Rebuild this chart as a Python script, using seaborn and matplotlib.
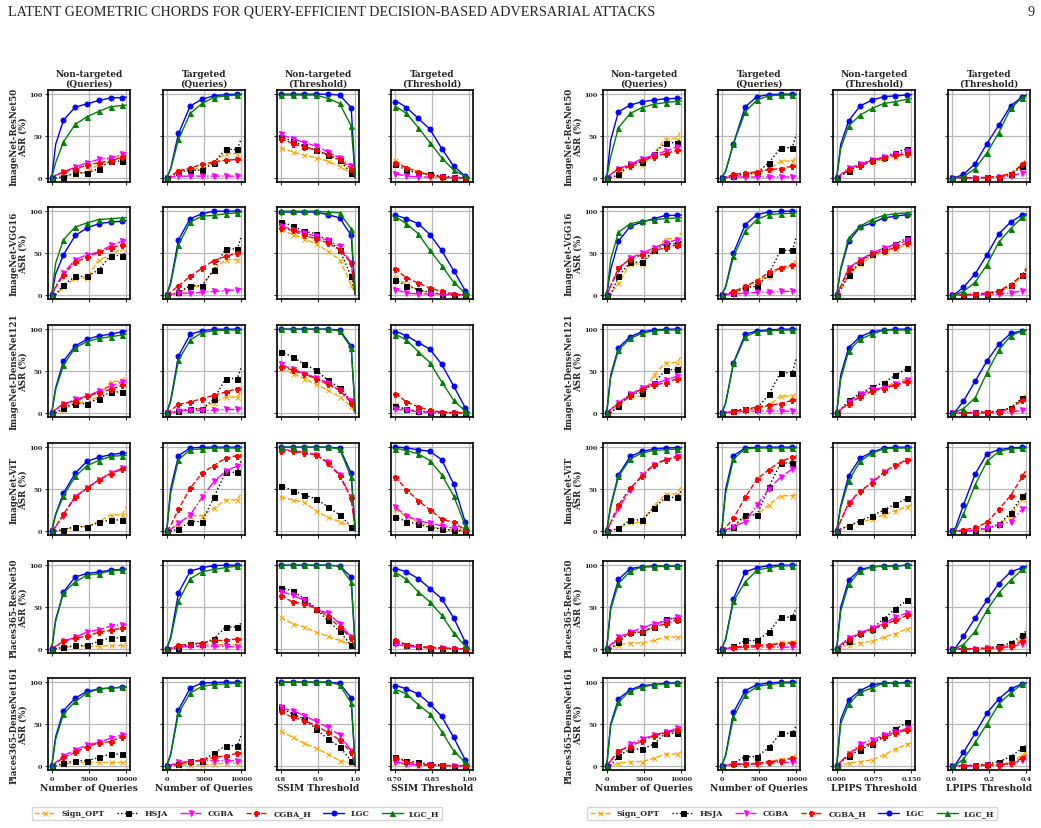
import matplotlib
matplotlib.use("Agg")
import matplotlib.pyplot as plt
import seaborn as sns

# ---- methods / styles ----
methods = ["Sign_OPT", "HSJA", "CGBA", "CGBA_H", "LGC", "LGC_H"]
colors = ["orange", "black", "magenta", "red", "blue", "green"]
markers = ["x", "s", "v", "P", "o", "^"]
styles = ["--", ":", "-.", "--", "-", "-"]

row_names = ["ImageNet-ResNet50", "ImageNet-VGG16", "ImageNet-DenseNet121",
             "ImageNet-ViT", "Places365-ResNet50", "Places365-DenseNet161"]
titles = ["Non-targeted\n(Queries)", "Targeted\n(Queries)",
          "Non-targeted\n(Threshold)", "Targeted\n(Threshold)"]
xlabels = ["Number of Queries", "Number of Queries", "SSIM Threshold", "SSIM Threshold",
           "Number of Queries", "Number of Queries", "LPIPS Threshold", "LPIPS Threshold"]

# sample positions (markers on all but the 2nd and last point)
query_x = [0, 526, 1579, 3158, 4737, 6316, 7895, 9474, 10000]
ssim_nt_x = [0.8, 0.811, 0.832, 0.863, 0.895, 0.926, 0.958, 0.989, 1.0]
ssim_t_x = [0.70, 0.716, 0.747, 0.795, 0.842, 0.889, 0.937, 0.984, 1.0]
lpips_nt_x = [0, 0.008, 0.024, 0.047, 0.071, 0.095, 0.118, 0.142, 0.15]
lpips_t_x = [0, 0.021, 0.063, 0.126, 0.189, 0.253, 0.316, 0.379, 0.4]

query_ticks = [0, 5000, 10000]
query_labels = ["0", "5000", "10000"]
ssim_nt_ticks = [0.8, 0.9, 1.0]
ssim_nt_labels = ["0.8", "0.9", "1.0"]
ssim_t_ticks = [0.70, 0.85, 1.00]
ssim_t_labels = ["0.70", "0.85", "1.00"]
lpips_nt_ticks = [0, 0.075, 0.15]
lpips_nt_labels = ["0.000", "0.075", "0.150"]
lpips_t_ticks = [0, 0.2, 0.4]
lpips_t_labels = ["0.0", "0.2", "0.4"]

# ---- ASR (%) per panel, rows in method order ----
# SSIM block
s_r50_ntq = [[0,0,1,5,7,16,24,27,33], [0,0,1,6,6,11,20,20,24], [0,3,7,13,18,22,24,28,30],
             [0,3,7,11,15,18,20,25,27], [0,40,69,84.5,88.5,92.5,95.5,96,96.5], [0,18,43,64,73,79.5,85,86.5,87]]
s_r50_tq = [[0,1,9,10,11,19,29,29,33], [0,1,7,9,9,18,34,34,47], [0,1,2,2,2,2,2,2,2],
            [0,2,8,12,16,19,21,22,22], [0,11,53,86,94,98,99.5,100,100], [0,10,46,77,89,96,98,99,99]]
s_r50_ntt = [[36,34,31,27,24,20,14,5,0], [49,47,44,38,33,27,21,6,0], [52,50,47,42,38,31,24,14,0],
             [47,45,41,37,33,28,22,11,0], [100,100,100,100,100,100,99,84,0], [99,99,99,99,99,95,89,62,0]]
s_r50_tt = [[21,18,12,7,4,1,0,0,0], [16,14,9,6,4,2,1,0,0], [5,4,2,1,1,0.5,0,0,0],
            [18,16,12,7,3,1,0,0,0], [91,90,84,71,58,35,14,2,0], [85,83,77,60,42,24,9,2,0]]

s_vgg_ntq = [[0,0,9,20,20,42,47,56,60], [0,0,12,22,22,30,47,47,52], [0,10,26,42,48,51,59,64,65],
             [0,9,24,39,45,51,56,60,63], [0,25,48,71,80,85,87,88,89], [0,38,66,81,86,90,91,92,92.5]]
s_vgg_tq = [[0,0,2,10,10,30,42,42,52], [0,0,3,11,11,30,55,55,70], [0,0.5,2,2,3,4,5,6,7],
            [0,3,11,22,32,41,46,50,51], [0,15,66,91,97,100,100,100,100], [0,13,60,87,94,95,97,98,99]]
s_vgg_ntt = [[78,76,72,67,61,52,42,12,0], [87,86,82,76,73,65,54,22,0], [82,81,78,74,70,65,58,38,0],
             [80,79,77,71,67,62,54,38,0], [99,99,99,99,99,96,92,71,0], [100,100,100,100,100,99,98,79,0]]
s_vgg_tt = [[21,18,13,6,2,0.5,0,0,0], [18,16,11,6,3,1,0,0,0], [6,5,2,1,1,0.5,0,0,0],
            [31,28,20,14,8,4,1,0,0], [95,94,91,85,72,53,29,5,0], [93,91,85,73,53,35,15,2,0]]

s_d121_ntq = [[0,0,3,12,12,20,37,38,46], [0,0,6,11,11,17,25,25,28], [0,4,10,16,20,26,32,37,39],
              [0,4,11,14,20,24,28,33,36], [0,30,62,80,88,92,94,97,98], [0,28,57,78,85,89,91,93,94]]
s_d121_tq = [[0,0,2,5,5,12,19,19,26], [0,0,2,5,5,16,41,41,55], [0,0.5,2,3,3,3,4,4,5],
             [0,3,10,13,17,21,25,29,31], [0,15,68,94,98,100,100,100,100], [0,13,63,87,96,98,99,99,99]]
s_d121_ntt = [[54,52,47,41,34,27,19,8,0], [73,71,67,58,51,39,30,14,0], [58,56,52,47,42,36,27,14,0],
              [55,54,51,46,41,34,27,12,0], [100,100,100,100,100,100,99,80,0], [100,100,100,100,100,100,98,78,0]]
s_d121_tt = [[10,8,4,2,1,0,0,0,0], [8,7,4,2,1,0,0,0,0], [5,4,3,1,0.5,0,0,0,0],
             [22,20,13,7,3,1,0.5,0,0], [97,96,92,84,76,58,32,6,0], [93,92,87,73,60,37,15,2,0]]

s_vit_ntq = [[0,0,1,5,5,11,19,19,29], [0,0,1.5,5,5,10,13,13,17], [0,5,18,41,51,61,69,75,78],
             [0,5,20,41,51,61,68,74,76], [0,20,45,69,83,88,91,93,93], [0,19,42,65,78,84,89,90,90]]
s_vit_tq = [[0,1,8,18,18,27,37,37,45], [0,0,2,11,11,40,70,70,85], [0,2,9,19,40,59,71,78,80],
            [0,6,26,51,69,78,87,90,91], [0,50,90,99,100,100,100,100,100], [0,45,85,97,98,99,99,99,99]]
s_vit_ntt = [[40,39,37,34,24,16,11,5,0], [54,52,48,43,38,29,19,5,0], [97,97,96,94,91,82,67,40,0],
             [96,96,95,93,91,81,66,39,0], [100,100,100,100,100,100,99,69,0], [100,100,100,100,100,100,98,64,0]]
s_vit_tt = [[26,23,17,10,6,2,0.5,0,0], [17,15,11,8,4,2,0.5,0,0], [28,25,18,12,9,6,3,1,0],
            [64,60,49,36,25,14,10,1,0], [100,100,99,97,95,85,56,10,0], [98,98,96,92,84,67,42,6,0]]

s_pr50_ntq = [[0,0,1,3,3,3,4,4,4], [0,0,2,4,4,9,13,13,14], [0,3,9,14,20,23,27,29,29],
              [0,3,9,13,15,20,22,25,26], [0,35,68,86,90,92,94,95,95], [0,33,67,80,88,90,93,94.5,95]]
s_pr50_tq = [[0,0.5,2,4,4,5,5,5,6], [0,0,1,6,6,12,26,26,31], [0,0.5,2,3,3,3,3,2,2],
             [0,1,4,6,7,10,10,12,12], [0,14,67,93,97,99.5,100,100,100], [0,12,57,84,92,95,97,99,99]]
s_pr50_ntt = [[38,35,30,26,20,15,10,5,0], [73,72,69,60,48,34,21,4,0], [68,67,64,58,47,43,30,14,0],
              [63,61,56,54,48,39,26,13,0], [100,100,100,100,100,100,99,86,0], [100,100,100,100,100,100,99,80,0]]
s_pr50_tt = [[9,8,4,2,1,0.5,0,0,0], [8,7,5,3,1,1,0,0,0], [6,5,3,2,1,0.5,0,0,0],
             [10,9,5,3,2,1,0.5,0,0], [95,95,92,84,72,60,37,8,0], [91,89,83,68,56,40,19,3,0]]

s_pd161_ntq = [[0,0,2,4,4,4,4,4,5], [0,0,3,6,6,10,14,14,17], [0,4,12,19,25,28,33,37,38],
               [0,3,10,16,23,27,29,35,37], [0,35,66,81,89,92,93,94,94], [0,32,62,77,87,92,93,94,94]]
s_pd161_tq = [[0,0,1,1,1,2,3,3,4], [0,0,2,6,6,15,24,24,37], [0,1,4,5,6,6,6,6,6],
              [0,0.5,2,5,7,10,12,15,16], [0,14,67,93,99,99.5,100,100,100], [0,13,63,87,95,97,98,99,99]]
s_pd161_ntt = [[42,39,34,27,21,14,6,3,0], [70,67,62,56,44,32,23,6,0], [70,68,66,60,53,46,37,18,0],
               [65,62,58,54,48,40,31,16,0], [100,100,100,100,100,100,99,81,0], [100,100,100,100,100,100,97,75,0]]
s_pd161_tt = [[4,3,1,1,0.5,0,0,0,0], [11,9,6,4,2,1,0,0,0], [5,4,2,1,0.5,0,0,0,0],
              [9,8,5,2,1,0.5,0,0,0], [96,95,92,86,74,59,34,7,0], [91,90,86,73,62,41,18,4,0]]

# LPIPS block
l_r50_ntq = [[0,0,3,15,15,29,47,47,57], [0,0,4,17,19,29,42,42,47], [0,4,11,16,23,27,32,37,38],
             [0,4,11,14,21,25,29,33,34], [0,45,79,87,91,93,94.5,95,95], [0,25,60,77,84,88,90,91.5,92]]
l_r50_tq = [[0,0,2,4,5,10,20,20,25], [0,0,2,5,6,18,36,36,52], [0,0.5,1,1,1,1,1,1,1],
            [0,1,4,6,7,10,11,14,15], [0,8,41,85,97,99.5,100,100,100], [0,8,41,79,93,98,99,99,99]]
l_r50_ntt = [[0,3,9,15,19,22,25,28,29], [0,2,8,17,21,25,30,35,36], [0,4,12,16,21,25,28,32,33],
             [0,3,10,14,20,24,27,29,30], [0,40,68,86,93,97,98,99,99.5], [0,35,62,75,83,89,91,94,94.5]]
l_r50_tt = [[0,0,0,0,0.5,2,5,15,23], [0,0,0,0,0.5,1,4,14,19], [0,0,0,0,0,1,2,6,7],
            [0,0,0,0,0.5,1.5,5,16,22], [0,0.5,4,17,41,63,86,97,99], [0,0.3,1.5,11,30,54,83,96,98]]

l_vgg_ntq = [[0,0,14,37,37,52,67,67,74], [0,0,22,39,39,53,61,61,64], [0,10,31,44,50,56,62,66,67],
             [0,11,32,43,48,53,56,60,62], [0,30,64,82,87,91,95,95,95.5], [0,42,75,85,88,90,91,92,92]]
l_vgg_tq = [[0,0,2,8,18,21,33,33,45], [0,0,2,9,10,25,53,53,69], [0,0.5,1,2,3,3,4,4,4],
            [0,1,4,10,17,27,32,36,38], [0,10,50,84,96,99,100,100,100], [0,9,46,76,90,96,97,97.5,98]]
l_vgg_ntt = [[0,6,23,37,46,51,55,60,61], [0,6,24,39,49,54,61,68,69], [0,10,32,42,50,56,60,65,66],
             [0,10,31,41,49,52,57,62,63], [0,30,64,81,86,92,94,96,96], [0,32,68,82,90,95,97,98,99]]
l_vgg_tt = [[0,0,0,0,2,4,10,22,29], [0,0,0,0.5,1,4,12,24,30], [0,0,0,0,0.5,1,2,5,6],
            [0,0,0,1,2,5,12,24,32], [0,1.5,9,25,48,73,87,95.6,97], [0,0.5,4,15,36,63,79,93,95]]

l_d121_ntq = [[0,0,8,20,20,45,60,60,68], [0,0,8,23,24,36,51,52,55], [0,4,12,22,30,35,39,44,45],
              [0,4,11,20,29,33,36,41,42], [0,45,78,91,97,99,100,100,100], [0,42,75,89,95,98,99,99,99]]
l_d121_tq = [[0,0,1,4,4,9,20,20,24], [0,0,2,5,5,22,48,48,65], [0,0.5,1,2,2,2,2,2,2],
             [0,0.5,2,4,7,9,11,15,16], [0,12,60,94,98,99,100,100,100], [0,11,59,91,97,98,99,99,99]]
l_d121_ntt = [[0,4,12,20,26,31,36,41,43], [0,4,15,23,31,36,45,53,54], [0,4,13,22,28,30,34,39,41],
              [0,4,11,19,26,29,33,37,38], [0,45,78,91,97,99,100,100,100], [0,40,74,88,94,99,99,99,99]]
l_d121_tt = [[0,0,0,0,1,2,6,17,24], [0,0,0,1,1,2,6,18,20], [0,0,0,0,0,0.5,1,3,4],
             [0,0,0,0,0.5,1.5,5,15,17], [0,2,14,38,62,82,95,98,99], [0,1,5,18,48,75,92,98,99]]

l_vit_ntq = [[0,0,3,10,10,30,44,44,54], [0,0,3,13,13,27,40,40,48], [0,9,27,49,67,79,85,90,91],
             [0,10,31,51,65,79,85,88,89], [0,30,67,89,95,98,99,99.5,99.5], [0,28,65,86,93,96,97,98,98]]
l_vit_tq = [[0,0,4,18,19,31,42,42,46], [0,0,5,19,19,52,81,81,90], [0,1,5,11,31,50,64,74,76],
            [0,4,15,40,62,73,83,88,89], [0,50,90,99,100,100,100,100,100], [0,45,86,98,99,99,99,99,99]]
l_vit_ntt = [[0,2,6,10,14,19,24,29,31], [0,2,6,12,18,25,32,39,40], [0,12,33,46,59,70,78,84,85],
             [0,12,33,48,57,70,79,85,86], [0,30,66,87,94,99,100,100,100], [0,28,60,83,93,98,99,99,99]]
l_vit_tt = [[0,0,0,0.5,2,7,18,38,43], [0,0,0,0.5,3,8,21,42,45], [0,0,0,1,3,7,11,26,29],
            [0,0,1,4,10,26,42,65,73], [0,4,31,68,92,97,99,100,100], [0,1,20,55,83,95,98,99,99]]

l_pr50_ntq = [[0,0,5,7,7,10,14,14,14], [0,0,8,20,20,26,36,36,39], [0,5,14,20,25,30,33,38,38],
              [0,4,12,19,20,26,30,35,36], [0,50,83,96,98,99,99,99,99], [0,47,78,93,98,98,99,99,99]]
l_pr50_tq = [[0,0,2,3,3,4,8,8,10], [0,0,3,10,10,20,38,38,49], [0,0.5,1,2,2,2,2,2,2],
             [0,0.5,2,3,4,5,6,7,7], [0,12,60,92,97,99.5,100,100,100], [0,11,57,80,94,97,99,99.5,99.5]]
l_pr50_ntt = [[0,2,5,7,9,14,18,24,25], [0,3,9,19,24,36,48,58,59], [0,5,13,19,25,30,38,43,44],
              [0,4,12,18,23,29,34,40,42], [0,50,82,95,98,99,99,100,100], [0,45,77,93,98,99,99,100,100]]
l_pr50_tt = [[0,0,0,0,1,2,5,12,18], [0,0,0,0,1,3,7,16,22], [0,0,0,0,0.5,1,2,6,8],
             [0,0,0,0,0.5,1,3,9,14], [0,1.5,15,37,58,78,92,97,99], [0,0.5,5,21,46,67,82,95,97]]

l_pd161_ntq = [[0,0,3,5,5,9,14,14,17], [0,0,12,20,20,26,39,39,42], [0,6,17,26,32,37,40,45,46],
               [0,6,18,23,30,36,39,43,44], [0,50,80,91,96,97,99,99,99], [0,48,76,90,94,97,98,99,99]]
l_pd161_tq = [[0,0,1,2,3,5,8,9,14], [0,0,3,11,11,22,39,39,48], [0,0.5,2,2,2,3,4,4,5],
              [0,0.5,2,2,3,5,6,9,10], [0,13,64,90,97,99,100,100,100], [0,12,58,85,95,97,99,99,99]]
l_pd161_ntt = [[0,1,3,5,7,13,20,26,27], [0,4,12,19,26,37,44,52,53], [0,5,14,26,31,37,40,45,46],
               [0,5,14,23,27,34,39,43,44], [0,55,79,90,97,99,99,100,100], [0,50,74,88,93,99,99,99,99]]
l_pd161_tt = [[0,0,0,0,1,2,4,13,17], [0,0,0,1,2,5,11,21,25], [0,0,0,0,0.5,1,2,7,9],
              [0,0,0,0.5,1,1,3,9,13], [0,2,16,39,63,80,92,98,99], [0,1,8,28,50,74,87,98,99]]

panels = [
    [s_r50_ntq, s_r50_tq, s_r50_ntt, s_r50_tt, l_r50_ntq, l_r50_tq, l_r50_ntt, l_r50_tt],
    [s_vgg_ntq, s_vgg_tq, s_vgg_ntt, s_vgg_tt, l_vgg_ntq, l_vgg_tq, l_vgg_ntt, l_vgg_tt],
    [s_d121_ntq, s_d121_tq, s_d121_ntt, s_d121_tt, l_d121_ntq, l_d121_tq, l_d121_ntt, l_d121_tt],
    [s_vit_ntq, s_vit_tq, s_vit_ntt, s_vit_tt, l_vit_ntq, l_vit_tq, l_vit_ntt, l_vit_tt],
    [s_pr50_ntq, s_pr50_tq, s_pr50_ntt, s_pr50_tt, l_pr50_ntq, l_pr50_tq, l_pr50_ntt, l_pr50_tt],
    [s_pd161_ntq, s_pd161_tq, s_pd161_ntt, s_pd161_tt, l_pd161_ntq, l_pd161_tq, l_pd161_ntt, l_pd161_tt],
]
col_x = [query_x, query_x, ssim_nt_x, ssim_t_x, query_x, query_x, lpips_nt_x, lpips_t_x]
col_ticks = [(query_ticks, query_labels), (query_ticks, query_labels),
             (ssim_nt_ticks, ssim_nt_labels), (ssim_t_ticks, ssim_t_labels),
             (query_ticks, query_labels), (query_ticks, query_labels),
             (lpips_nt_ticks, lpips_nt_labels), (lpips_t_ticks, lpips_t_labels)]

# ---- layout (pixels) ----
W, H = 1041, 829
col_left = [48, 163, 277, 391, 603, 718, 833, 948]
row_top = [91, 208, 326, 444, 562, 679]
aw, ah = 82, 92
mark_idx = [0, 2, 3, 4, 5, 6, 7]

sns.set_style("ticks")
plt.rcParams["font.family"] = ["DejaVu Serif"]
plt.rcParams["font.weight"] = "bold"
plt.rcParams["axes.labelweight"] = "bold"
plt.rcParams["axes.titleweight"] = "bold"

fig = plt.figure(figsize=(W / 100, H / 100), dpi=100)

handles = None
for r in range(6):
    for c in range(8):
        ax = fig.add_axes([col_left[c] / W, 1 - (row_top[r] + ah) / H, aw / W, ah / H])
        for k in range(6):
            sns.lineplot(x=col_x[c], y=panels[r][c][k], ax=ax, color=colors[k],
                         marker=markers[k], linestyle=styles[k], markevery=mark_idx,
                         markersize=3.6, linewidth=1.0, markeredgecolor=colors[k],
                         markeredgewidth=0.7, sort=False, label=methods[k], legend=False)
        if handles is None:
            handles = ax.get_lines()[:6]
        ax.set_ylim(-5, 105)
        ax.set_yticks([0, 50, 100])
        ticks, labels = col_ticks[c]
        ax.set_xticks(ticks)
        ax.set_xticklabels(labels)
        ax.grid(True, color="0.72", linewidth=0.9)
        for s in ax.spines.values():
            s.set_linewidth(1.2)
            s.set_color("black")
        ax.tick_params(labelsize=4.6, pad=1.5, length=2.5, width=0.8)
        ax.tick_params(labelleft=(c in (0, 4)), labelbottom=(r == 5))
        ax.set_xlabel(xlabels[c] if r == 5 else "", fontsize=6.6, labelpad=2)
        if c in (0, 4):
            ax.set_ylabel(row_names[r] + "\nASR (%)", fontsize=6.2, linespacing=1.1)
            ax.yaxis.set_label_coords(-0.245, 0.5)
        else:
            ax.set_ylabel("")
        if r == 0:
            ax.set_title(titles[c % 4], fontsize=6.5, pad=3, linespacing=1.1)

for cx in (237, 792):
    fig.legend(handles, methods, loc="center", bbox_to_anchor=(cx / W, 1 - 814.5 / H),
               ncol=6, fontsize=5.8, frameon=True, edgecolor="0.8", fancybox=True,
               handlelength=2.6, columnspacing=1.5, borderpad=0.35, handletextpad=0.8)

fig.text(8 / W, 1 - 12 / H,
         "LATENT GEOMETRIC CHORDS FOR QUERY-EFFICIENT DECISION-BASED ADVERSARIAL ATTACKS",
         family="Liberation Serif", weight="normal", fontsize=10.2, va="center", ha="left")
fig.text(1031 / W, 1 - 12 / H, "9", family="Liberation Serif", weight="normal",
         fontsize=10.2, va="center", ha="center")

fig.savefig("out.png", dpi=100)
